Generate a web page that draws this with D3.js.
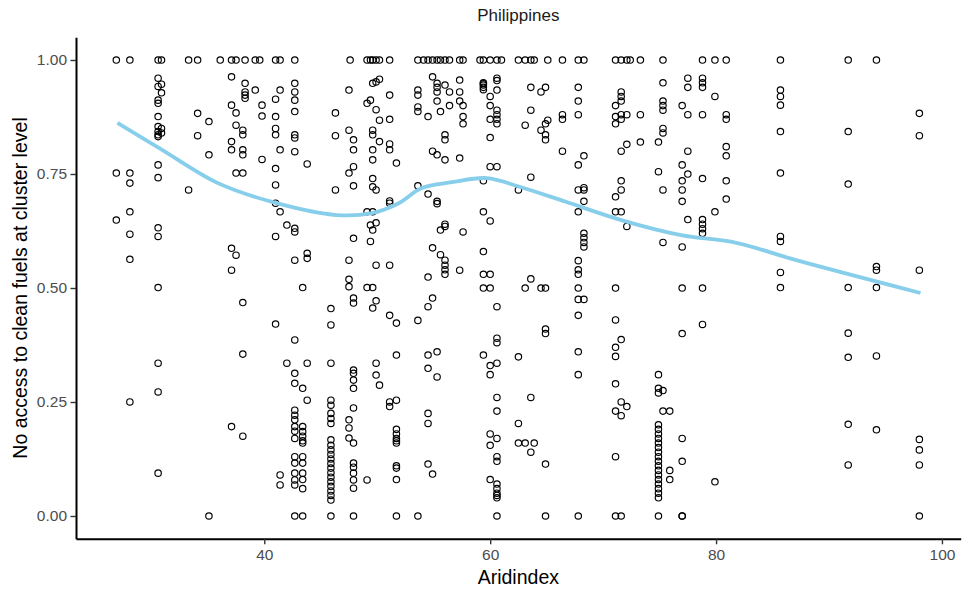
<!DOCTYPE html>
<html>
<head>
<meta charset="utf-8">
<script src="https://cdn.jsdelivr.net/npm/d3@7"></script>
<style>
  body { margin: 0; background: #fff; }
  svg { display: block; font-family: "Liberation Sans", Arial, sans-serif; }
</style>
</head>
<body>
<div id="wrapper"></div>
<script>
// clusters: [aridindex, [share without clean fuel access ...]]
const clusters = [
    [26.9, [1.0, 0.752, 0.649]],
    [28.1, [1.0, 0.752, 0.73, 0.667, 0.618, 0.563, 0.25]],
    [30.6, [1.0, 0.96, 0.942, 0.912, 0.905, 0.876, 0.854, 0.843, 0.836, 0.832, 0.77, 0.742, 0.632, 0.613, 0.501, 0.335, 0.272, 0.094]],
    [30.9, [1.0, 0.947, 0.928, 0.85, 0.84]],
    [33.3, [1.0, 0.715]],
    [34.1, [1.0, 0.883, 0.834]],
    [35.1, [0.865, 0.792, 0.0]],
    [36.1, [1.0]],
    [37.1, [1.0, 0.963, 0.901, 0.821, 0.803, 0.587, 0.539, 0.196]],
    [37.5, [1.0, 0.884, 0.857, 0.752, 0.572]],
    [38.1, [0.846, 0.836, 0.803, 0.792, 0.752, 0.468, 0.175, 0.355]],
    [38.3, [1.0, 0.949, 0.93, 0.923, 0.916]],
    [39.2, [1.0, 0.934]],
    [39.6, [1.0]],
    [39.8, [0.901, 0.877, 0.782]],
    [41.0, [1.0, 0.914, 0.876, 0.85, 0.836, 0.762, 0.726, 0.686, 0.613, 0.421]],
    [41.4, [1.0, 0.934, 0.803, 0.667, 0.09, 0.068]],
    [42.0, [0.638, 0.335]],
    [42.7, [1.0, 0.949, 0.93, 0.912, 0.887, 0.836, 0.829, 0.799, 0.631, 0.623, 0.561, 0.386, 0.313, 0.291, 0.232, 0.221, 0.211, 0.196, 0.186, 0.17, 0.13, 0.116, 0.094, 0.079, 0.068, 0.0]],
    [43.4, [0.501, 0.28, 0.196, 0.185, 0.175, 0.165, 0.16, 0.13, 0.116, 0.094, 0.08, 0.06, 0.0]],
    [43.8, [0.772, 0.576, 0.565, 0.335, 0.254]],
    [45.9, [0.455, 0.419, 0.335, 0.254, 0.243, 0.225, 0.214, 0.203, 0.167, 0.155, 0.145, 0.135, 0.125, 0.115, 0.105, 0.095, 0.085, 0.075, 0.065, 0.055, 0.045, 0.035, 0.0]],
    [46.3, [0.884, 0.834, 0.715]],
    [47.5, [0.934, 0.846, 0.752, 0.561, 0.519, 0.503, 0.211, 0.193, 0.171]],
    [47.6, [1.0]],
    [47.9, [0.825, 0.803, 0.766, 0.724, 0.609, 0.478, 0.467, 0.32, 0.313, 0.298, 0.28, 0.237, 0.16, 0.116, 0.107, 0.094, 0.079, 0.061, 0.0]],
    [49.1, [1.0, 0.905, 0.667, 0.501, 0.079]],
    [49.4, [1.0, 0.912, 0.602, 0.638]],
    [49.6, [1.0, 0.949, 0.846, 0.836, 0.803, 0.781, 0.74, 0.722, 0.667, 0.627, 0.501, 0.456]],
    [49.9, [1.0, 0.952, 0.891, 0.715, 0.643, 0.55, 0.472, 0.335, 0.309]],
    [50.2, [1.0, 0.958, 0.868, 0.821, 0.287]],
    [51.1, [1.0, 0.923, 0.87, 0.816, 0.803, 0.691, 0.686, 0.55, 0.44, 0.25, 0.24]],
    [51.7, [0.774, 0.423, 0.353, 0.254, 0.19, 0.18, 0.17, 0.165, 0.16, 0.11, 0.105, 0.08, 0.0]],
    [53.6, [1.0, 0.934, 0.923, 0.897, 0.887, 0.724, 0.429, 0.0]],
    [54.1, [1.0]],
    [54.5, [1.0, 0.876, 0.706, 0.524, 0.459, 0.353, 0.324, 0.225, 0.203, 0.114]],
    [54.9, [1.0, 0.963, 0.80, 0.588, 0.478, 0.092]],
    [55.3, [1.0, 0.949, 0.94, 0.93, 0.91, 0.69, 0.685, 0.792, 0.36, 0.305]],
    [55.6, [1.0, 0.887, 0.573, 0.627]],
    [56.0, [1.0, 0.945, 0.836, 0.825, 0.781, 0.64, 0.635, 0.561, 0.55, 0.54, 0.53]],
    [56.4, [1.0, 0.93, 0.9]],
    [57.3, [1.0, 0.956, 0.93, 0.91, 0.785, 0.539]],
    [57.6, [1.0, 0.90, 0.876, 0.86, 0.623]],
    [59.1, [1.0]],
    [59.4, [1.0, 0.95, 0.948, 0.945, 0.94, 0.935, 0.735, 0.667, 0.58, 0.53, 0.50, 0.353]],
    [60.0, [1.0, 0.92, 0.90, 0.87, 0.83, 0.766, 0.647, 0.53, 0.50, 0.33, 0.31, 0.18, 0.155, 0.08]],
    [60.6, [1.0, 0.96, 0.955, 0.934, 0.89, 0.88, 0.87, 0.86, 0.766, 0.459, 0.39, 0.38, 0.335, 0.26, 0.23, 0.17, 0.13, 0.12, 0.07, 0.06, 0.05, 0.045, 0.04, 0.0]],
    [61.0, [1.0]],
    [62.5, [1.0, 0.715, 0.349, 0.203, 0.16]],
    [63.1, [1.0, 0.857, 0.50, 0.16]],
    [63.6, [1.0, 0.94, 0.89, 0.743, 0.52, 0.26, 0.14]],
    [63.9, [1.0, 0.16]],
    [64.5, [0.93, 0.846, 0.50]],
    [64.9, [0.94, 0.86, 0.836, 0.825, 0.50, 0.41, 0.40, 0.114, 0.0]],
    [65.1, [1.0, 0.868]],
    [66.4, [1.0, 0.88, 0.87, 0.80]],
    [67.8, [1.0, 0.94, 0.91, 0.88, 0.77, 0.715, 0.667, 0.56, 0.54, 0.53, 0.50, 0.475, 0.44, 0.36, 0.31, 0.0]],
    [68.3, [1.0, 0.79, 0.72, 0.715, 0.69, 0.62, 0.61, 0.60, 0.59, 0.475]],
    [71.1, [1.0, 0.90, 0.876, 0.86, 0.70, 0.667, 0.50, 0.43, 0.37, 0.35, 0.29, 0.23, 0.13, 0.0]],
    [71.6, [1.0, 0.93, 0.92, 0.91, 0.88, 0.87, 0.80, 0.735, 0.715, 0.667, 0.387, 0.25, 0.22, 0.0]],
    [72.1, [1.0, 0.88, 0.815, 0.635, 0.24]],
    [72.4, [1.0]],
    [73.3, [1.0, 0.88, 0.82]],
    [74.9, [0.82, 0.755, 0.31, 0.28, 0.27, 0.20, 0.19, 0.18, 0.17, 0.16, 0.15, 0.14, 0.13, 0.12, 0.11, 0.10, 0.09, 0.08, 0.07, 0.06, 0.05, 0.04, 0.0]],
    [75.3, [1.0, 0.95, 0.91, 0.90, 0.89, 0.85, 0.84, 0.715, 0.60, 0.275, 0.23]],
    [75.9, [0.23, 0.10, 0.08]],
    [77.0, [0.90, 0.77, 0.735, 0.715, 0.69, 0.59, 0.50, 0.40, 0.17, 0.12, 0.0, 0.0]],
    [77.5, [0.96, 0.94, 0.88, 0.80, 0.75, 0.65]],
    [78.8, [1.0, 0.96, 0.95, 0.94, 0.88, 0.74, 0.65, 0.64, 0.63, 0.62, 0.50, 0.42]],
    [79.9, [1.0, 0.92, 0.667, 0.075]],
    [80.9, [1.0, 0.88, 0.87, 0.81, 0.79, 0.735, 0.695]],
    [85.7, [1.0, 0.934, 0.92, 0.901, 0.843, 0.752, 0.613, 0.602, 0.534, 0.501]],
    [91.7, [1.0, 0.843, 0.728, 0.501, 0.401, 0.348, 0.201, 0.112]],
    [94.2, [1.0, 0.547, 0.539, 0.501, 0.351, 0.189]],
    [98.0, [0.883, 0.834, 0.539, 0.168, 0.145, 0.112, 0.0]]
]

// smoothed trend
const smoothX = [27, 30.7, 35.9, 41.1, 46.4, 49.5, 51.9, 53.9, 56.6, 59.7, 62.6, 66.7, 71.6, 76.9, 81.8, 87.1, 98.1]
const smoothY = [0.862, 0.807, 0.73, 0.686, 0.66, 0.664, 0.686, 0.719, 0.732, 0.741, 0.722, 0.689, 0.649, 0.616, 0.599, 0.561, 0.489]

const xTicks = [40, 60, 80, 100]
const yTicks = [0, 0.25, 0.5, 0.75, 1]

const points = clusters.flatMap(([x, ys]) => ys.map(y => ({ x, y })))

let dimensions = {
    width: 962,
    height: 592,
    margin: { top: 37.2, right: 1.3, bottom: 53.2, left: 76 }
}
dimensions.boundedWidth = dimensions.width - dimensions.margin.left - dimensions.margin.right
dimensions.boundedHeight = dimensions.height - dimensions.margin.top - dimensions.margin.bottom

const svg = d3.select('#wrapper').append('svg')
    .attr('width', dimensions.width)
    .attr('height', dimensions.height)

const bounds = svg.append('g')
    .attr('transform', `translate(${dimensions.margin.left}, ${dimensions.margin.top})`)

const xScale = d3.scaleLinear()
    .domain([23.33, 101.66])
    .range([0, dimensions.boundedWidth])

const yScale = d3.scaleLinear()
    .domain([-0.05, 1.05])
    .range([dimensions.boundedHeight, 0])

// points
bounds.append('g')
    .selectAll('circle')
    .data(points)
    .join('circle')
    .attr('cx', d => xScale(d.x))
    .attr('cy', d => yScale(d.y))
    .attr('r', 3.2)
    .attr('fill', 'none')
    .attr('stroke', '#000')
    .attr('stroke-width', 1.15)

// smooth line
const lineGenerator = d3.line()
    .x(d => xScale(d[0]))
    .y(d => yScale(d[1]))
    .curve(d3.curveCatmullRom)

bounds.append('path')
    .attr('d', lineGenerator(d3.zip(smoothX, smoothY)))
    .attr('fill', 'none')
    .attr('stroke', '#87ceeb')
    .attr('stroke-width', 3.8)

// axes
const yAxis = bounds.append('g')
    .call(d3.axisLeft(yScale).tickValues(yTicks).tickFormat(d3.format('.2f'))
        .tickSizeInner(5.5).tickSizeOuter(0).tickPadding(3.5))
const xAxis = bounds.append('g')
    .attr('transform', `translate(0, ${dimensions.boundedHeight})`)
    .call(d3.axisBottom(xScale).tickValues(xTicks)
        .tickSizeInner(5.5).tickSizeOuter(0).tickPadding(5))

;[xAxis, yAxis].forEach(ax => {
    ax.select('.domain').attr('stroke', '#000').attr('stroke-width', 2)
    ax.selectAll('.tick line').attr('stroke', '#333').attr('stroke-width', 1.4)
    ax.selectAll('.tick text')
        .attr('fill', '#4d4d4d')
        .style('font-size', '15.5px')
        .style('font-family', '"Liberation Sans", Arial, sans-serif')
})

// titles
svg.append('text')
    .attr('x', dimensions.margin.left + dimensions.boundedWidth / 2)
    .attr('y', 21)
    .attr('text-anchor', 'middle')
    .style('font-size', '17px')
    .attr('fill', '#1a1a1a')
    .text('Philippines')

svg.append('text')
    .attr('x', dimensions.margin.left + dimensions.boundedWidth / 2)
    .attr('y', 583.5)
    .attr('text-anchor', 'middle')
    .style('font-size', '19.5px')
    .attr('fill', '#000')
    .text('Aridindex')

svg.append('text')
    .attr('transform', `translate(27, ${dimensions.margin.top + dimensions.boundedHeight / 2}) rotate(-90)`)
    .attr('text-anchor', 'middle')
    .style('font-size', '19.5px')
    .attr('fill', '#000')
    .text('No access to clean fuels at cluster level')
</script>
</body>
</html>
